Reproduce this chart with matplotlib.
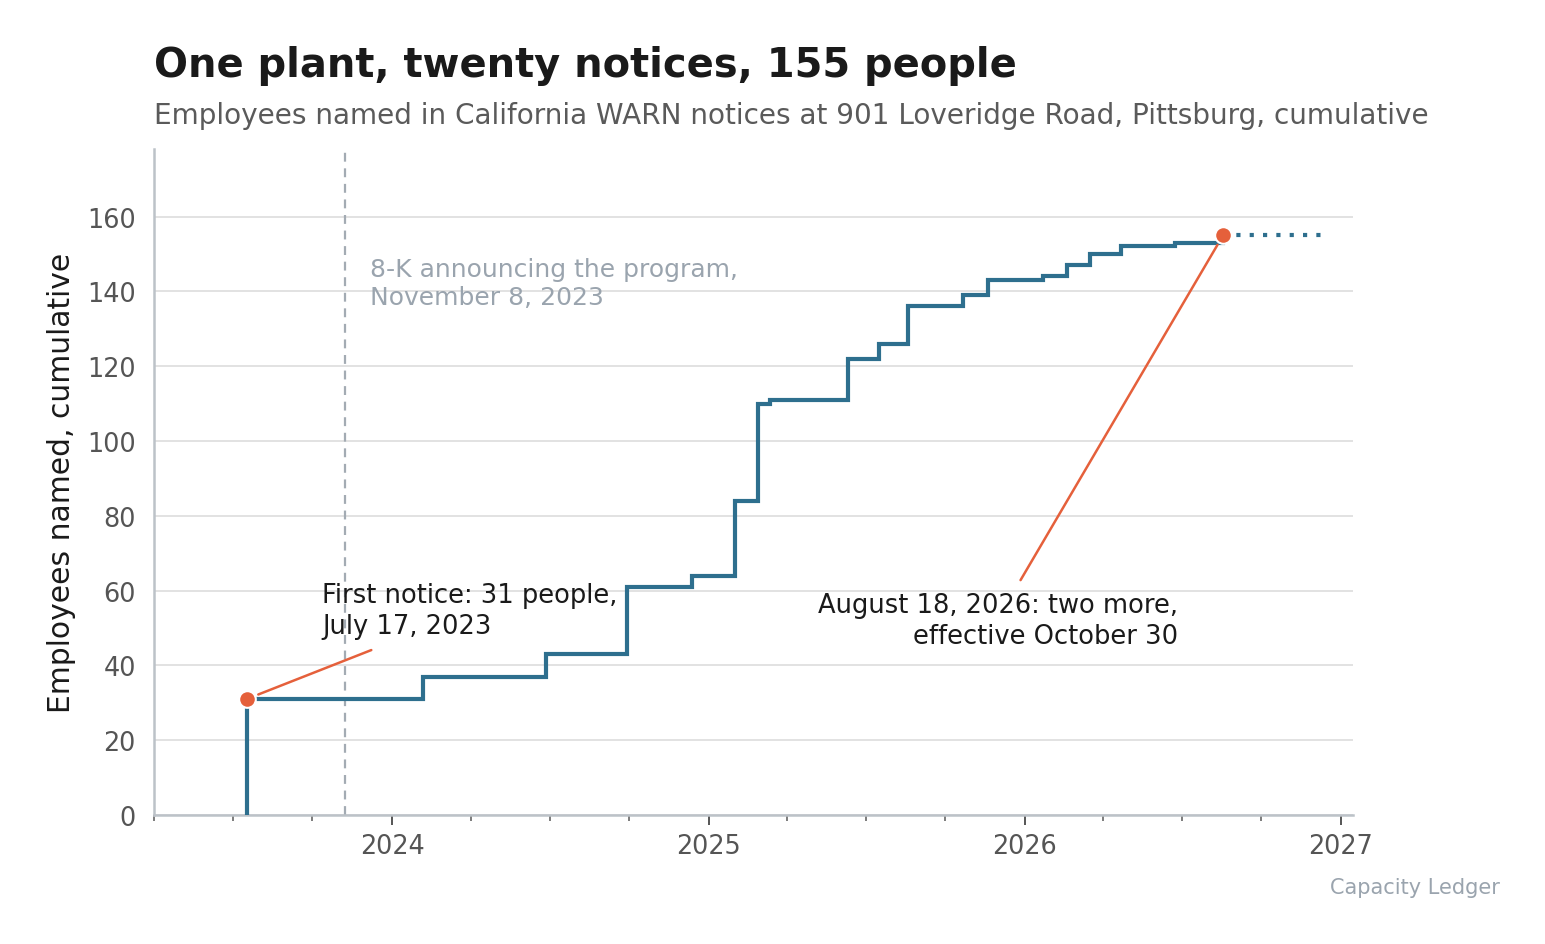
import matplotlib
matplotlib.use("Agg")
import matplotlib.pyplot as plt
import matplotlib.dates as mdates
import numpy as np
import pandas as pd

# ---- data ----
notice_dates = ["2023-07-17", "2024-02-06", "2024-06-27", "2024-09-28", "2024-12-12",
                "2025-01-31", "2025-02-27", "2025-03-13", "2025-06-11", "2025-07-16",
                "2025-08-19", "2025-10-22", "2025-11-19", "2026-01-22", "2026-02-19",
                "2026-03-17", "2026-04-22", "2026-06-24", "2026-08-18"]
cumulative = [31, 37, 43, 61, 64, 84, 110, 111, 122, 126, 136, 139, 143, 144, 147,
              150, 152, 153, 155]
projection_end = "2026-12-10"
eightk_date = "2023-11-08"
year_ticks = ["2024-01-01", "2025-01-01", "2026-01-01", "2027-01-01"]
year_labels = ["2024", "2025", "2026", "2027"]
y_ticks = [0, 20, 40, 60, 80, 100, 120, 140, 160]

BLUE = "#2e6f8e"
RED = "#e5603b"
GREY_TXT = "#555555"
LIGHT = "#9aa4ae"

plt.rcParams["font.family"] = ["DejaVu Sans"]

dates = pd.to_datetime(notice_dates)
fig = plt.figure(figsize=(15.45, 9.45), dpi=100)
ax = fig.add_axes([0.0997, 0.1365, 0.776, 0.7045])

# step line
x = [dates[0]] + list(dates)
y = [0] + cumulative
ax.plot(x, y, drawstyle="steps-post", color=BLUE, lw=3.0, solid_joinstyle="miter", zorder=3)
# projection
ax.plot([dates[-1], pd.Timestamp(projection_end)], [cumulative[-1], cumulative[-1]],
        color=BLUE, lw=3.0, ls=(0, (1, 2.2)), zorder=3)
# markers
ax.plot([dates[0], dates[-1]], [cumulative[0], cumulative[-1]], "o", color=RED,
        ms=12, mec="white", mew=1.5, zorder=5)

# 8-K line
ax.axvline(pd.Timestamp(eightk_date), color="#a3abb3", lw=1.6, ls=(0, (4, 3)), zorder=2)
ax.text(pd.Timestamp("2023-12-07"), 149.3, "8-K announcing the program,\nNovember 8, 2023",
        color=LIGHT, fontsize=18, va="top", ha="left", linespacing=1.25)

# annotations
ax.text(pd.Timestamp("2023-10-12"), 62.3, "First notice: 31 people,\nJuly 17, 2023",
        color="#1a1a1a", fontsize=18.5, va="top", ha="left", linespacing=1.25)
ax.annotate("", xy=(dates[0], cumulative[0]), xytext=(pd.Timestamp("2023-12-08"), 44.1),
            arrowprops=dict(arrowstyle="-", color=RED, lw=1.8, shrinkA=0, shrinkB=9))
ax.text(pd.Timestamp("2026-06-27"), 59.6, "August 18, 2026: two more,\neffective October 30",
        color="#1a1a1a", fontsize=18.5, va="top", ha="right", linespacing=1.25,
        multialignment="right")
ax.annotate("", xy=(dates[-1], cumulative[-1]), xytext=(pd.Timestamp("2025-12-27"), 62.8),
            arrowprops=dict(arrowstyle="-", color=RED, lw=1.8, shrinkA=0, shrinkB=8))

# axes styling
ax.set_xlim(pd.Timestamp("2023-04-01"), pd.Timestamp("2027-01-15"))
ax.set_ylim(0, 178)
ax.set_yticks(y_ticks)
ax.set_xticks(pd.to_datetime(year_ticks))
ax.set_xticklabels(year_labels)
ax.xaxis.set_minor_locator(mdates.MonthLocator(bymonth=[1, 4, 7, 10]))
ax.grid(axis="y", color="#e2e2e2", lw=1.4, zorder=0)
ax.set_axisbelow(True)
for s in ["top", "right"]:
    ax.spines[s].set_visible(False)
for s in ["left", "bottom"]:
    ax.spines[s].set_color("#bcc2c8")
    ax.spines[s].set_linewidth(1.8)
ax.tick_params(axis="y", length=0, pad=13, labelsize=18.4, labelcolor=GREY_TXT)
ax.tick_params(axis="x", which="major", length=7, width=1.4, color="#555555", pad=6,
               labelsize=18.4, labelcolor=GREY_TXT)
ax.tick_params(axis="x", which="minor", length=4, width=1.2, color="#666666")
ax.set_ylabel("Employees named, cumulative", fontsize=21.4, color="#1a1a1a", labelpad=8)

# titles
fig.text(0.0997, 0.918, "One plant, twenty notices, 155 people", fontsize=28.8,
         fontweight="bold", color="#1a1a1a", ha="left", va="baseline")
fig.text(0.0997, 0.869, "Employees named in California WARN notices at 901 Loveridge Road, Pittsburg, cumulative",
         fontsize=20.1, color="#5a5a5a", ha="left", va="baseline")
fig.text(0.971, 0.054, "Capacity Ledger", fontsize=15, color=LIGHT, ha="right", va="baseline")

fig.savefig("out.png", dpi=100)
